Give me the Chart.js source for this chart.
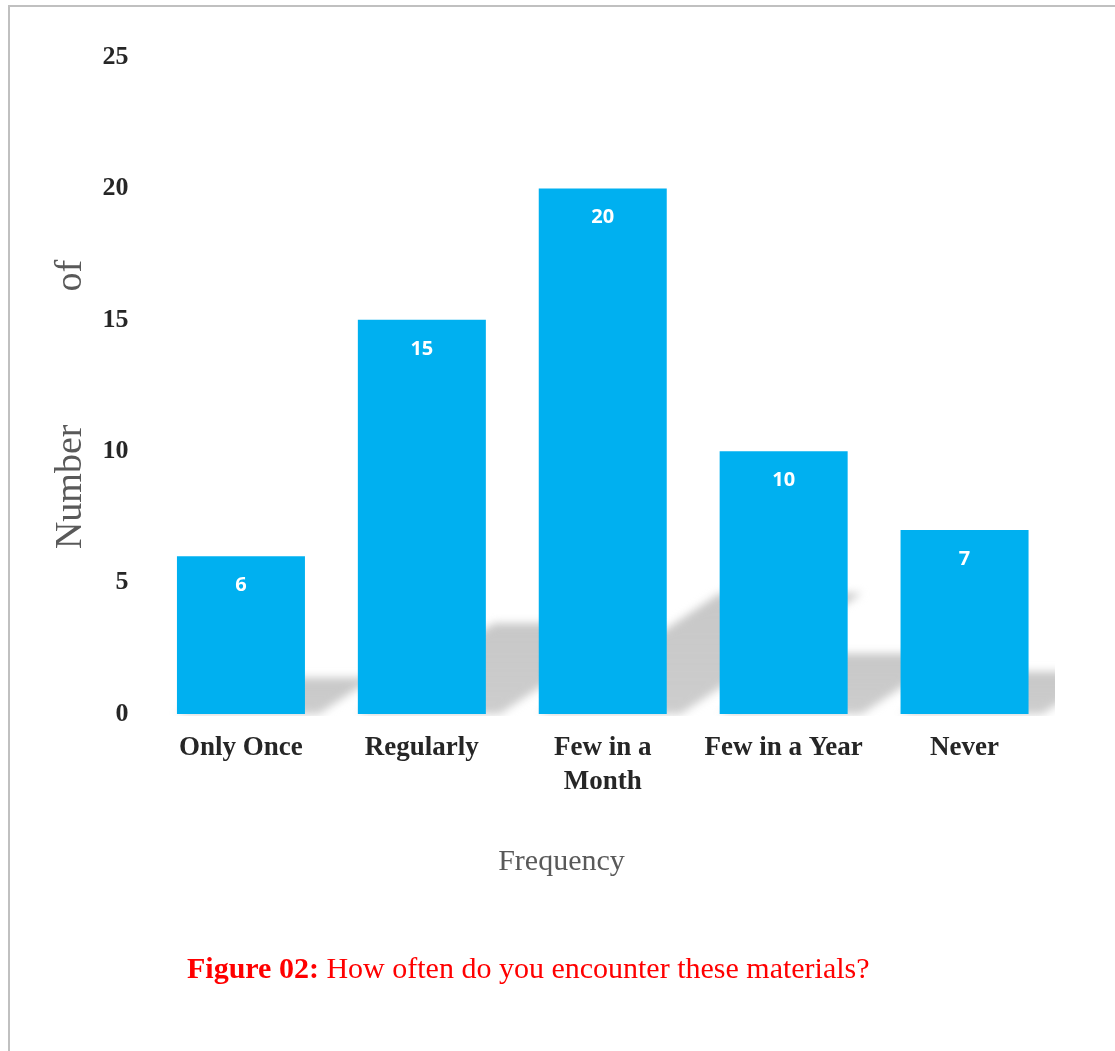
<!DOCTYPE html>
<html>
<head>
<meta charset="utf-8">
<title>Figure 02</title>
<script src="https://cdn.jsdelivr.net/npm/chart.js@4.4.1/dist/chart.umd.min.js"></script>
<style>
  body { margin: 0; background: #fff; }
  #page { position: relative; width: 1115px; height: 1051px; overflow: hidden; }
  #frame { position: absolute; left: 8px; top: 5px; right: 0; bottom: 0;
           border-top: 2px solid #c0c0c0; border-left: 2px solid #c0c0c0; }
  #chart { position: absolute; left: 0; top: 0; }
  #caption { position: absolute; left: 187px; top: 950px; white-space: nowrap;
             font: 30px/36px "Liberation Serif", "Times New Roman", serif; color: #ff0000; }
</style>
</head>
<body>
<div id="page">
  <div id="frame"></div>
  <canvas id="chart" width="1115" height="1051"></canvas>
  <div id="caption"><b>Figure 02:</b> How often do you encounter these materials?</div>
</div>
<script>
// Dados do gráfico
const categories = ['Only Once', 'Regularly', ['Few in a', 'Month'], 'Few in a Year', 'Never'];
const counts = [6, 15, 20, 10, 7];
const yMin = 0;
const yMax = 25;
const yStep = 5;

const yTitle = 'Number' + ' '.repeat(14) + 'of' + ' '.repeat(4);
const xTitle = 'Frequency' + ' '.repeat(11);

const serif = '"Liberation Serif", "Times New Roman", serif';

// sombra em perspectiva atrás de cada barra
const barShadow = {
  id: 'barShadow',
  beforeDatasetsDraw(chart) {
    const { ctx, chartArea } = chart;
    const bars = chart.getDatasetMeta(0).data;
    ctx.save();
    ctx.beginPath();
    ctx.rect(chartArea.left, chartArea.top, chartArea.right - chartArea.left, chartArea.bottom - chartArea.top + 2);
    ctx.clip();
    ctx.filter = 'blur(4px)';
    bars.forEach(bar => {
      const x0 = bar.x - bar.width / 2;
      const x1 = bar.x + bar.width / 2;
      const h = bar.base - bar.y;
      const hs = h * 0.23;
      const dx = hs * 1.5;
      const grad = ctx.createLinearGradient(0, bar.base - hs, 0, bar.base);
      grad.addColorStop(0, 'rgba(190,190,190,0.85)');
      grad.addColorStop(1, 'rgba(200,200,200,0.9)');
      ctx.fillStyle = grad;
      ctx.beginPath();
      ctx.moveTo(x0, bar.base);
      ctx.lineTo(x1 + 14, bar.base);
      ctx.lineTo(x1 + 14 + dx, bar.base - hs);
      ctx.lineTo(x0 + dx, bar.base - hs);
      ctx.closePath();
      ctx.fill();
    });
    ctx.restore();
  }
};

// rótulos de valor dentro das barras
const barLabels = {
  id: 'barLabels',
  afterDatasetsDraw(chart) {
    const { ctx } = chart;
    const bars = chart.getDatasetMeta(0).data;
    ctx.save();
    ctx.fillStyle = '#ffffff';
    ctx.font = 'bold 20px "Open Sans", sans-serif';
    ctx.textAlign = 'center';
    ctx.textBaseline = 'middle';
    bars.forEach((bar, i) => {
      ctx.fillText(String(counts[i]), bar.x, bar.y + 29);
    });
    ctx.restore();
  }
};

new Chart(document.getElementById('chart'), {
  type: 'bar',
  data: {
    labels: categories,
    datasets: [{
      data: counts,
      backgroundColor: '#00b0f0',
      borderWidth: 0,
      barPercentage: 0.7076,
      categoryPercentage: 1
    }]
  },
  options: {
    responsive: false,
    animation: false,
    layout: { padding: { top: 57, right: 60, bottom: 171, left: 0 } },
    plugins: {
      legend: { display: false },
      tooltip: { enabled: false }
    },
    scales: {
      y: {
        min: yMin,
        max: yMax,
        ticks: {
          stepSize: yStep,
          padding: 22,
          color: '#262626',
          font: { family: serif, size: 26, weight: 'bold' }
        },
        grid: { display: false, drawTicks: false },
        border: { display: false },
        title: {
          display: true,
          text: yTitle,
          color: '#595959',
          font: { family: serif, size: 38 },
          padding: { top: 48, bottom: 0 }
        },
        afterFit: scale => { scale.width = 150.5; }
      },
      x: {
        ticks: {
          padding: 17,
          color: '#262626',
          font: { family: serif, size: 27, weight: 'bold', lineHeight: 1.25 }
        },
        grid: { display: false, drawTicks: false },
        border: { display: false },
        title: {
          display: true,
          text: xTitle,
          color: '#595959',
          font: { family: serif, size: 30 },
          padding: { top: 0, bottom: 0 }
        },
        afterFit: scale => { scale.height = 166; }
      }
    }
  },
  plugins: [barShadow, barLabels]
});
</script>
</body>
</html>
